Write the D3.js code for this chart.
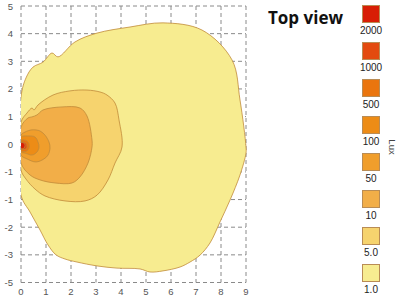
<!DOCTYPE html>
<html lang="en">
<head>
    <meta charset="UTF-8">
    <title>Top view</title>
    <script src="https://d3js.org/d3.v7.min.js"></script>
    <style>
        body {
            margin: 0;
            padding: 0;
            background: #fff;
            font-family: 'Liberation Sans', Arial, sans-serif;
        }
        .grid line {
            stroke: #8a8a8a;
            stroke-dasharray: 4 3;
            stroke-width: 1;
        }
        .tick-label {
            font-size: 9.5px;
            fill: #555;
        }
    </style>
</head>
<body>
    <svg id="chart" width="400" height="300"></svg>

    <script>
        // Lux levels, highest first (legend order)
        const levels = ["2000", "1000", "500", "100", "50", "10", "5.0", "1.0"];
        const colors = ["#d81e05", "#e34a0f", "#ea750e", "#ed8c16", "#f09e2c", "#f2ae48", "#f6d36e", "#f7ec90"];

        // Axis ticks and their printed labels (as shown on the original)
        const xTicks = [0, 1, 2, 3, 4, 5, 6, 7, 8, 9];
        const yTicks = [5, 4, 3, 2, 1, 0, -1, -2, -3, -4, -5];
        const yTickLabels = ["5", "4", "3", "2", "1", "0", "-1", "-1", "-2", "-3", "-5"];

        // Iso-lux outlines, [x, y] in metres
        const lux1 = [
            [0, 1.71], [0.2, 2.4], [0.48, 2.79], [0.88, 2.97], [1.24, 3.3], [1.48, 3.16],
            [2.16, 3.7], [3.04, 4.02], [4.36, 4.24], [5.68, 4.39], [7.24, 4.13], [8.44, 3.05],
            [8.76, 1.6], [9.0, -0.1], [9.0, -0.32], [8.76, -1.11], [8.36, -2.02], [7.96, -2.81],
            [7.56, -3.57], [7.16, -4.01], [6.76, -4.26], [6.36, -4.44], [5.68, -4.58], [5.16, -4.62],
            [4.76, -4.51], [3.84, -4.48], [3.04, -4.4], [2.24, -4.26], [1.76, -4.15], [1.4, -4.0],
            [1.08, -3.64], [0.76, -3.1], [0.36, -2.45], [0, -1.84]
        ];
        const lux5 = [
            [0, 0.8], [0.24, 1.13], [0.44, 1.31], [0.52, 1.24], [0.68, 1.42], [1.28, 1.78],
            [1.96, 1.93], [2.64, 1.96], [3.16, 1.89], [3.44, 1.78], [3.76, 1.49], [3.92, 0.88],
            [4.04, -0.1], [3.76, -0.68], [3.48, -1.29], [3.04, -1.84], [2.56, -2.05], [1.76, -2.05],
            [0.96, -1.87], [0.56, -1.62], [0.2, -1.26], [0, -0.93]
        ];
        const lux10 = [
            [0, 0.62], [0.28, 0.95], [0.44, 0.99], [0.64, 1.06], [0.88, 1.24], [1.64, 1.35],
            [2.36, 1.31], [2.64, 1.02], [2.84, 0.15], [2.84, -0.1], [2.68, -0.68], [2.36, -1.18],
            [2.04, -1.4], [1.36, -1.4], [0.76, -1.29], [0.36, -1.11], [0, -0.68]
        ];
        const lux50 = [
            [0, 0.33], [0.16, 0.44], [0.44, 0.52], [0.76, 0.48], [0.96, 0.33], [1.12, 0.08],
            [1.16, -0.14], [1.08, -0.39], [0.92, -0.53], [0.6, -0.64], [0.24, -0.53], [0, -0.39]
        ];
        const lux100 = [
            [0, 0.26], [0.28, 0.3], [0.56, 0.26], [0.68, 0.08], [0.72, -0.1], [0.64, -0.28],
            [0.44, -0.39], [0.16, -0.32], [0, -0.28]
        ];
        const lux500 = [[0, 0.15], [0.24, 0.12], [0.32, 0.01], [0.32, -0.14], [0.24, -0.24], [0, -0.24]];
        const lux1000 = [[0, 0.08], [0.2, 0.04], [0.24, -0.07], [0.2, -0.17], [0, -0.17]];
        const lux2000 = [[0, 0.06], [0.12, 0.04], [0.16, -0.05], [0.12, -0.14], [0, -0.15]];

        // outer to inner, so the brighter zones sit on top
        const outlines = [lux1, lux5, lux10, lux50, lux100, lux500, lux1000, lux2000];

        const svg = d3.select("#chart");

        const x = d3.scaleLinear().domain([0, 9]).range([21, 246]);
        const y = d3.scaleLinear().domain([-5, 5]).range([282.5, 6]);

        // Dashed grid (also forms the frame)
        const grid = svg.append("g").attr("class", "grid");
        grid.selectAll(".vx")
            .data(xTicks)
            .join("line")
            .attr("x1", d => x(d)).attr("x2", d => x(d))
            .attr("y1", y(5)).attr("y2", y(-5));
        grid.selectAll(".hy")
            .data(yTicks)
            .join("line")
            .attr("class", "hy")
            .attr("x1", x(0)).attr("x2", x(9))
            .attr("y1", d => y(d)).attr("y2", d => y(d));

        // Tick labels
        svg.append("g")
            .selectAll("text")
            .data(xTicks)
            .join("text")
            .attr("class", "tick-label")
            .attr("x", d => x(d))
            .attr("y", 295)
            .attr("text-anchor", "middle")
            .text(d => d);

        svg.append("g")
            .selectAll("text")
            .data(yTicks)
            .join("text")
            .attr("class", "tick-label")
            .attr("x", 13)
            .attr("y", d => y(d) + 3.5)
            .attr("text-anchor", "end")
            .text((d, i) => yTickLabels[i]);

        // Contours, clipped to the plot area
        svg.append("clipPath")
            .attr("id", "plot-clip")
            .append("rect")
            .attr("x", x(0)).attr("y", y(5))
            .attr("width", x(9) - x(0) + 1)
            .attr("height", y(-5) - y(5));

        const line = d3.line()
            .x(d => x(d[0]))
            .y(d => y(d[1]))
            .curve(d3.curveCatmullRomClosed.alpha(0.5));

        svg.append("g")
            .attr("clip-path", "url(#plot-clip)")
            .selectAll("path")
            .data(outlines)
            .join("path")
            .attr("d", line)
            .attr("fill", (d, i) => colors[colors.length - 1 - i])
            .attr("stroke", "#c08a3a")
            .attr("stroke-width", 0.8);

        // Title
        svg.append("text")
            .attr("x", 268)
            .attr("y", 24)
            .attr("font-family", "'Open Sans', sans-serif")
            .attr("font-weight", "bold")
            .attr("font-size", "17px")
            .attr("fill", "#111")
            .text("Top view");

        // Legend
        const legend = svg.append("g");
        const rowY = d3.scaleLinear().domain([0, levels.length - 1]).range([5, 264]);

        levels.forEach((lv, i) => {
            legend.append("rect")
                .attr("x", 362.5)
                .attr("y", rowY(i) + 0.5)
                .attr("width", 17)
                .attr("height", 17)
                .attr("fill", colors[i])
                .attr("stroke", "#b98c55")
                .attr("stroke-width", 1);
            legend.append("text")
                .attr("x", 371)
                .attr("y", rowY(i) + 29)
                .attr("text-anchor", "middle")
                .attr("font-size", "10px")
                .attr("fill", "#222")
                .text(lv);
        });

        svg.append("text")
            .attr("transform", "translate(389,147) rotate(90)")
            .attr("text-anchor", "middle")
            .attr("font-size", "9.5px")
            .attr("fill", "#444")
            .text("Lux");
    </script>
</body>
</html>
